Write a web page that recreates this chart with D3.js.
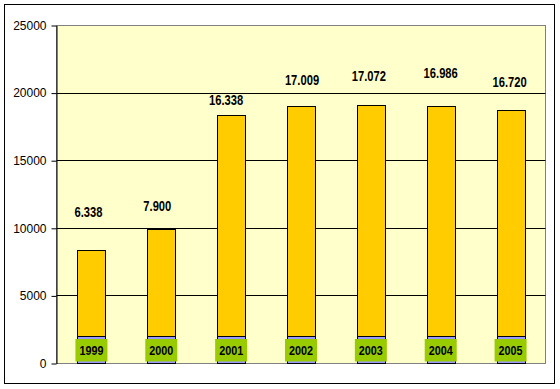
<!DOCTYPE html>
<html>
<head>
<meta charset="utf-8">
<script src="https://cdn.jsdelivr.net/npm/d3@7"></script>
<style>
  body { margin: 0; background: #fff; }
  svg { display: block; }
</style>
</head>
<body>
<script>
// data
var years = ['1999', '2000', '2001', '2002', '2003', '2004', '2005'];
var baseValues = [2000, 2000, 2000, 2000, 2000, 2000, 2000];
var values = [6338, 7900, 16338, 17009, 17072, 16986, 16720];
var yTicks = [0, 5000, 10000, 15000, 20000, 25000];

// label tweaks (pixels above the bar top, horizontal nudge)
var labelLift = [33, 18, 10, 21, 24, 28, 23];
var labelShift = [-3, -4, -5, 1, -2, 0, -1];

var W = 560, H = 389;
var plot = { left: 56.5, right: 545.5, top: 25, bottom: 363 };

var fmt = d3.formatLocale({ decimal: ',', thousands: '.', grouping: [3], currency: ['', ''] }).format(',d');

var x = d3.scaleBand()
  .domain(years)
  .range([plot.left, plot.right])
  .paddingInner(0.6)
  .paddingOuter(0.3);

var y = d3.scaleLinear()
  .domain([0, 25000])
  .range([plot.bottom, plot.top]);

var font = '"Liberation Sans", Arial, sans-serif';

var svg = d3.select('body')
  .append('svg')
  .attr('width', W)
  .attr('height', H);

// outer frame
svg.append('rect')
  .attr('x', 4.5).attr('y', 4.5)
  .attr('width', 550).attr('height', 379)
  .attr('fill', '#fff')
  .attr('stroke', '#000');

// plot area
svg.append('rect')
  .attr('x', plot.left).attr('y', plot.top + 0.5)
  .attr('width', plot.right - plot.left).attr('height', plot.bottom - plot.top)
  .attr('fill', '#FFFFCC')
  .attr('stroke', '#808080');

// gridlines
svg.append('g')
  .selectAll('line')
  .data(yTicks.filter(function(d){ return d > 0 && d < 25000; }))
    .enter()
      .append('line')
        .attr('x1', plot.left).attr('x2', plot.right)
        .attr('y1', function(d){ return Math.round(y(d)) + 0.5; })
        .attr('y2', function(d){ return Math.round(y(d)) + 0.5; })
        .attr('stroke', '#000');

// y axis
var yAxis = svg.append('g')
  .attr('transform', 'translate(' + plot.left + ',0.5)')
  .call(d3.axisLeft(y).tickValues(yTicks).tickSize(5).tickSizeOuter(0).tickFormat(d3.format('d')));

yAxis.select('.domain').attr('stroke', '#000');
yAxis.selectAll('.tick line').attr('stroke', '#000');
yAxis.selectAll('.tick text')
  .attr('x', -10)
  .attr('fill', '#000')
  .style('font-family', font)
  .style('font-size', '12px');

// bars
var bars = svg.append('g');

bars.selectAll('rect.base')
  .data(years)
    .enter()
      .append('rect')
        .attr('class', 'base')
        .attr('x', function(d){ return Math.round(x(d)) + 0.5; })
        .attr('width', Math.round(x.bandwidth()))
        .attr('y', function(d, i){ return Math.round(y(baseValues[i])) + 0.5; })
        .attr('height', function(d, i){ return Math.round(y(0)) - Math.round(y(baseValues[i])); })
        .attr('fill', '#9999FF')
        .attr('stroke', '#000');

bars.selectAll('rect.value')
  .data(years)
    .enter()
      .append('rect')
        .attr('class', 'value')
        .attr('x', function(d){ return Math.round(x(d)) + 0.5; })
        .attr('width', Math.round(x.bandwidth()))
        .attr('y', function(d, i){ return Math.round(y(baseValues[i] + values[i])) + 0.5; })
        .attr('height', function(d, i){ return Math.round(y(baseValues[i])) - Math.round(y(baseValues[i] + values[i])); })
        .attr('fill', '#FFCC00')
        .attr('stroke', '#000');

// value labels (squeezed to look like a narrow face)
svg.append('g')
  .selectAll('text')
  .data(years)
    .enter()
      .append('text')
        .text(function(d, i){ return fmt(values[i]); })
        .attr('transform', function(d, i){
          var tx = x(d) + x.bandwidth() / 2 + labelShift[i];
          var ty = y(baseValues[i] + values[i]) - labelLift[i];
          return 'translate(' + tx + ',' + ty + ') scale(0.8,1)';
        })
        .attr('text-anchor', 'middle')
        .style('font-family', font)
        .style('font-weight', 'bold')
        .style('font-size', '14px');

// year boxes
var boxes = svg.append('g')
  .selectAll('g')
  .data(years)
    .enter()
      .append('g')
        .attr('transform', function(d){
          return 'translate(' + (x(d) + x.bandwidth() / 2) + ',' + (y(0) - 24) + ')';
        });

boxes.append('rect')
  .attr('x', -16).attr('y', 0)
  .attr('width', 32).attr('height', 22.5)
  .attr('fill', '#99CC00');

boxes.append('text')
  .text(function(d){ return d; })
  .attr('transform', 'translate(0,16) scale(0.8,1)')
  .attr('text-anchor', 'middle')
  .style('font-family', font)
  .style('font-weight', 'bold')
  .style('font-size', '13.5px');
</script>
</body>
</html>
